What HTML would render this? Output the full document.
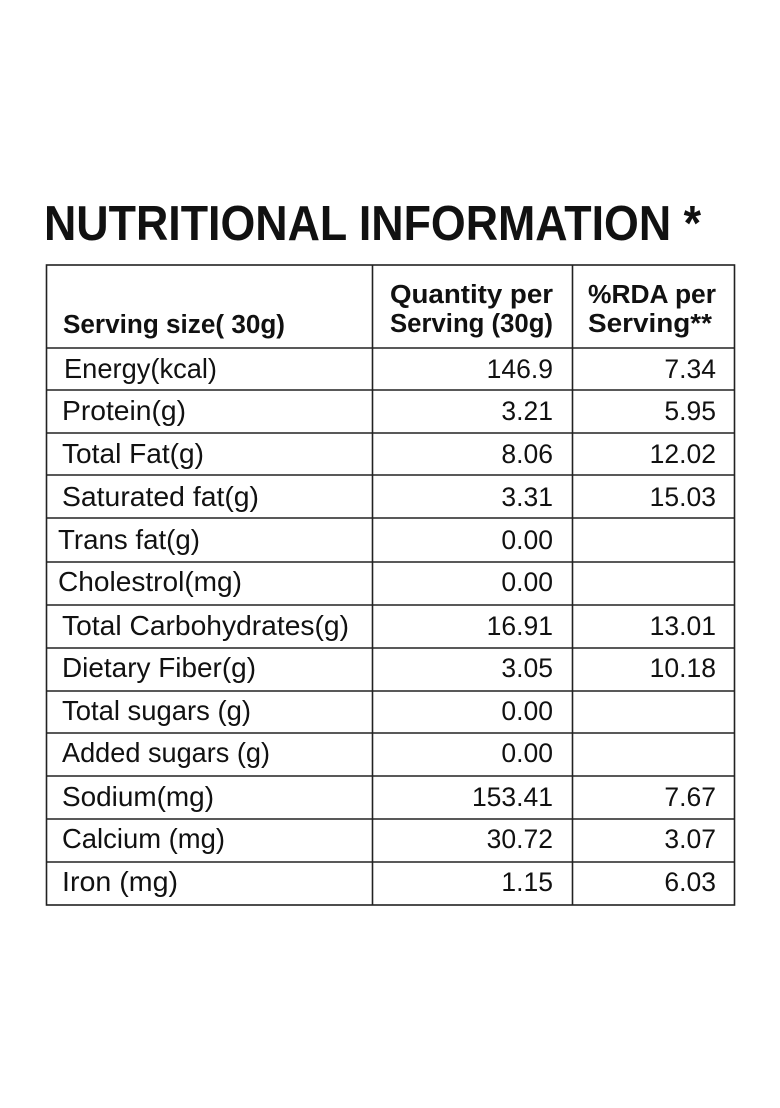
<!DOCTYPE html>
<html><head><meta charset="utf-8"><style>
html,body{margin:0;padding:0;background:#fff;}
svg{display:block;}
text{font-family:"Liberation Sans",sans-serif;fill:#111;}
</style></head><body>
<svg width="780" height="1108" viewBox="0 0 780 1108" xmlns="http://www.w3.org/2000/svg">
<rect width="780" height="1108" fill="#fff"/>
<text x="44" y="240" font-size="49" font-weight="bold" textLength="657" lengthAdjust="spacingAndGlyphs">NUTRITIONAL INFORMATION *</text>
<g stroke="#222" stroke-width="1.6" fill="none">
<rect x="46.5" y="265" width="688" height="640"/>
<line x1="372.5" y1="265" x2="372.5" y2="905"/>
<line x1="572.5" y1="265" x2="572.5" y2="905"/>
<line x1="46" y1="348" x2="735" y2="348"/>
<line x1="46" y1="390" x2="735" y2="390"/>
<line x1="46" y1="433" x2="735" y2="433"/>
<line x1="46" y1="475" x2="735" y2="475"/>
<line x1="46" y1="518" x2="735" y2="518"/>
<line x1="46" y1="562" x2="735" y2="562"/>
<line x1="46" y1="605" x2="735" y2="605"/>
<line x1="46" y1="648" x2="735" y2="648"/>
<line x1="46" y1="691" x2="735" y2="691"/>
<line x1="46" y1="733" x2="735" y2="733"/>
<line x1="46" y1="776" x2="735" y2="776"/>
<line x1="46" y1="819" x2="735" y2="819"/>
<line x1="46" y1="862" x2="735" y2="862"/>
</g>
<g font-size="25.5" font-weight="bold">
<text x="63" y="333" textLength="222" lengthAdjust="spacingAndGlyphs">Serving size( 30g)</text>
<text x="390" y="303" textLength="163" lengthAdjust="spacingAndGlyphs">Quantity per</text>
<text x="390" y="332" textLength="163" lengthAdjust="spacingAndGlyphs">Serving (30g)</text>
<text x="588" y="303" textLength="128" lengthAdjust="spacingAndGlyphs">%RDA per</text>
<text x="588" y="332" textLength="124" lengthAdjust="spacingAndGlyphs">Serving**</text>
</g>
<g font-size="27.5">
<text x="64" y="378" textLength="153" lengthAdjust="spacingAndGlyphs">Energy(kcal)</text>
<text x="62" y="420" textLength="124" lengthAdjust="spacingAndGlyphs">Protein(g)</text>
<text x="62" y="463" textLength="142" lengthAdjust="spacingAndGlyphs">Total Fat(g)</text>
<text x="62" y="506" textLength="197" lengthAdjust="spacingAndGlyphs">Saturated fat(g)</text>
<text x="58" y="549" textLength="142" lengthAdjust="spacingAndGlyphs">Trans fat(g)</text>
<text x="58" y="591" textLength="184" lengthAdjust="spacingAndGlyphs">Cholestrol(mg)</text>
<text x="62" y="635" textLength="287" lengthAdjust="spacingAndGlyphs">Total Carbohydrates(g)</text>
<text x="62" y="677" textLength="194" lengthAdjust="spacingAndGlyphs">Dietary Fiber(g)</text>
<text x="62" y="720" textLength="189" lengthAdjust="spacingAndGlyphs">Total sugars (g)</text>
<text x="62" y="762" textLength="208" lengthAdjust="spacingAndGlyphs">Added sugars (g)</text>
<text x="62" y="806" textLength="152" lengthAdjust="spacingAndGlyphs">Sodium(mg)</text>
<text x="62" y="848" textLength="163" lengthAdjust="spacingAndGlyphs">Calcium (mg)</text>
<text x="62" y="891" textLength="116" lengthAdjust="spacingAndGlyphs">Iron (mg)</text>
</g>
<g font-size="26.5" text-anchor="end">
<text x="553" y="378">146.9</text><text x="716" y="378">7.34</text>
<text x="553" y="420">3.21</text><text x="716" y="420">5.95</text>
<text x="553" y="463">8.06</text><text x="716" y="463">12.02</text>
<text x="553" y="506">3.31</text><text x="716" y="506">15.03</text>
<text x="553" y="549">0.00</text>
<text x="553" y="591">0.00</text>
<text x="553" y="635">16.91</text><text x="716" y="635">13.01</text>
<text x="553" y="677">3.05</text><text x="716" y="677">10.18</text>
<text x="553" y="720">0.00</text>
<text x="553" y="762">0.00</text>
<text x="553" y="806">153.41</text><text x="716" y="806">7.67</text>
<text x="553" y="848">30.72</text><text x="716" y="848">3.07</text>
<text x="553" y="891">1.15</text><text x="716" y="891">6.03</text>
</g>
</svg>
</body></html>
